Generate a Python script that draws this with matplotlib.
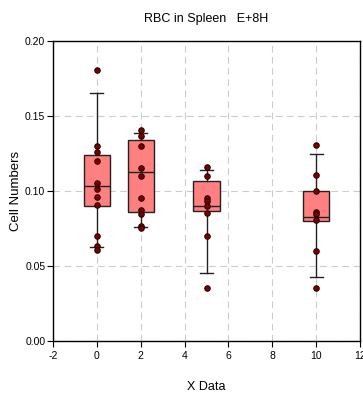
import matplotlib
matplotlib.use("Agg")
import matplotlib.pyplot as plt

# Group positions on the x axis
positions = [0, 2, 5, 10]

# Box summary statistics per group
q1 = [0.0900, 0.0857, 0.0864, 0.0802]
medians = [0.1030, 0.1125, 0.0902, 0.0825]
q3 = [0.1240, 0.1340, 0.1066, 0.1000]
whisker_low = [0.0625, 0.0757, 0.0455, 0.0425]
whisker_high = [0.1655, 0.1390, 0.1137, 0.1245]

# Individual measurements per group
points_0 = [0.1805, 0.130, 0.126, 0.120, 0.105, 0.101, 0.0958, 0.0907, 0.070, 0.063, 0.0605]
points_2 = [0.1405, 0.1365, 0.130, 0.1155, 0.110, 0.095, 0.087, 0.0847, 0.0765, 0.0750]
points_5 = [0.1160, 0.1100, 0.0956, 0.0930, 0.0900, 0.0855, 0.0702, 0.0355]
points_10 = [0.1305, 0.1107, 0.1002, 0.0862, 0.0847, 0.0805, 0.0602, 0.0350]
all_points = [points_0, points_2, points_5, points_10]

x_ticks = [-2, 0, 2, 4, 6, 8, 10, 12]
y_ticks = [0.00, 0.05, 0.10, 0.15, 0.20]
y_tick_labels = ["0.00", "0.05", "0.10", "0.15", "0.20"]

plt.rcParams["font.family"] = ["Liberation Sans", "DejaVu Sans"]

fig = plt.figure(figsize=(3.63, 3.95), dpi=100)
ax = fig.add_axes([0.146, 0.137, 0.846, 0.759])

stats = []
for i in range(len(positions)):
    stats.append(dict(med=medians[i], q1=q1[i], q3=q3[i],
                      whislo=whisker_low[i], whishi=whisker_high[i], fliers=[]))

ax.bxp(stats, positions=positions, widths=1.2, patch_artist=True,
       showfliers=False,
       boxprops=dict(facecolor="#ff8080", edgecolor="#222222", linewidth=1.0),
       medianprops=dict(color="#222222", linewidth=1.0),
       whiskerprops=dict(color="#222222", linewidth=1.0),
       capprops=dict(color="#222222", linewidth=1.0),
       capwidths=0.6, zorder=3)

for pos, pts in zip(positions, all_points):
    ax.plot([pos] * len(pts), pts, linestyle="none", marker="o",
            markersize=4.0, markerfacecolor="#7a0000",
            markeredgecolor="#220000", markeredgewidth=0.7, zorder=4)

ax.set_xlim(-2, 12)
ax.set_ylim(0, 0.20)
ax.set_xticks(x_ticks)
ax.set_xticklabels([str(t) for t in x_ticks])
ax.set_yticks(y_ticks)
ax.set_yticklabels(y_tick_labels)

ax.grid(True, color="#cccccc", linestyle=(0, (6, 4)), linewidth=0.8, zorder=0)
ax.set_axisbelow(True)

for side in ["left", "bottom", "top", "right"]:
    ax.spines[side].set_linewidth(1.0)
    ax.spines[side].set_color("black")

ax.tick_params(axis="both", direction="out", length=4, width=0.8,
               labelsize=7.5, colors="black")
ax.tick_params(axis="x", pad=3)
ax.tick_params(axis="y", pad=1.5)

ax.set_xlabel("X Data", fontsize=9, labelpad=15)
ax.set_ylabel("Cell Numbers", fontsize=9.5, labelpad=2)
ax.set_title("RBC in Spleen   E+8H", fontsize=9, pad=14)

fig.savefig("out.png", dpi=100)
